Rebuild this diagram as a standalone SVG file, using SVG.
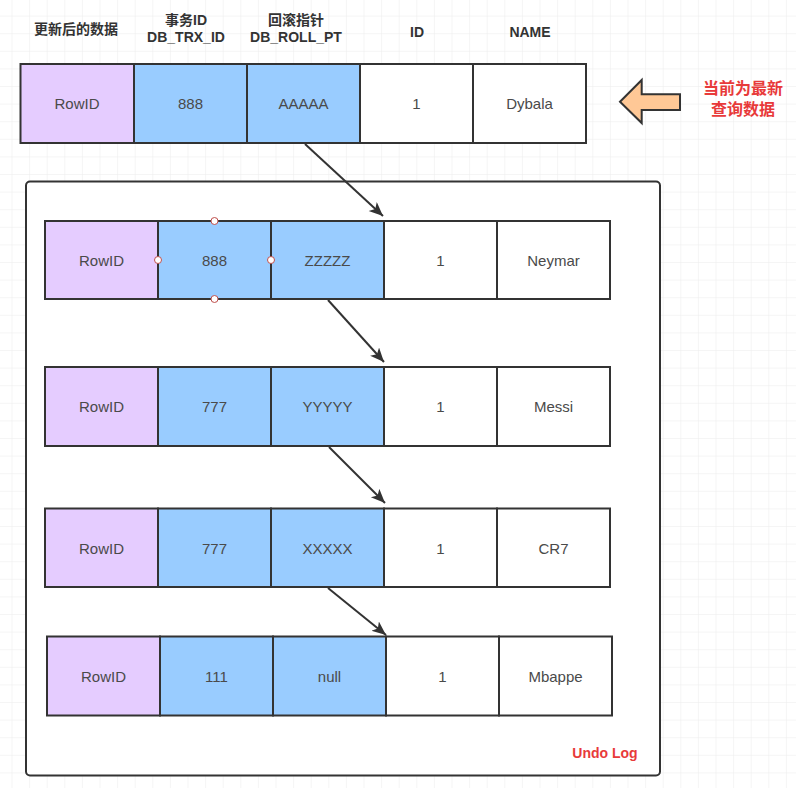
<svg xmlns="http://www.w3.org/2000/svg" width="796" height="788" viewBox="0 0 796 788">
<defs>
<pattern id="grid" x="11.5" y="15.6" width="17.6" height="17.6" patternUnits="userSpaceOnUse">
<path d="M0,0 H17.6 M0,0 V17.6" fill="none" stroke="#ececec" stroke-width="1"/>
</pattern>
<marker id="arr" markerUnits="userSpaceOnUse" markerWidth="16" markerHeight="14" refX="14" refY="6" orient="auto">
<path d="M0,0 L14,6 L0,12 L3.5,6 z" fill="#333"/>
</marker>
<style>
.c{stroke:#333;stroke-width:2}
.p{fill:#E5CCFF}
.b{fill:#99CCFF}
.w{fill:#FFFFFF}
.t{font-family:"Liberation Sans","Noto Sans CJK SC",sans-serif;font-size:15px;fill:#4a4a4a;text-anchor:middle;dominant-baseline:central}
.h{font-family:"Liberation Sans","Noto Sans CJK SC",sans-serif;font-size:14px;font-weight:bold;fill:#333;text-anchor:middle;dominant-baseline:central}
.r{font-family:"Liberation Sans","Noto Sans CJK SC",sans-serif;font-size:16px;font-weight:bold;fill:#E83A3A;text-anchor:middle;dominant-baseline:central}
.e{fill:none;stroke:#333;stroke-width:2;marker-end:url(#arr)}
.hd{fill:#fff;stroke:#c0504d;stroke-width:1}
</style>
</defs>
<rect width="796" height="788" fill="#fff"/>
<rect width="796" height="788" fill="url(#grid)"/>

<g id="headers">
<text class="h" x="76" y="29">更新后的数据</text>
<text class="h" x="186" y="20">事务ID</text>
<text class="h" x="186" y="37">DB_TRX_ID</text>
<text class="h" x="296" y="20">回滚指针</text>
<text class="h" x="296" y="37">DB_ROLL_PT</text>
<text class="h" x="417" y="32">ID</text>
<text class="h" x="530" y="32">NAME</text>
</g>

<g id="undolog">
<rect x="26" y="181.5" width="634" height="594" rx="4" fill="#fff" stroke="#333" stroke-width="2"/>
<text class="r" x="605" y="753" style="font-size:14px">Undo Log</text>
</g>

<g id="row0">
<rect class="c p" x="20.5" y="64" width="113.5" height="79"/>
<rect class="c b" x="134" y="64" width="113" height="79"/>
<rect class="c b" x="247" y="64" width="113" height="79"/>
<rect class="c w" x="360" y="64" width="113" height="79"/>
<rect class="c w" x="473" y="64" width="113" height="79"/>
<text class="t" x="77" y="103.5">RowID</text>
<text class="t" x="190.5" y="103.5">888</text>
<text class="t" x="303.5" y="103.5">AAAAA</text>
<text class="t" x="416.5" y="103.5">1</text>
<text class="t" x="529.5" y="103.5">Dybala</text>
</g>

<g id="row1">
<rect class="c p" x="45" y="221" width="113" height="78"/>
<rect class="c b" x="158" y="221" width="113" height="78"/>
<rect class="c b" x="271" y="221" width="113" height="78"/>
<rect class="c w" x="384" y="221" width="113" height="78"/>
<rect class="c w" x="497" y="221" width="113" height="78"/>
<text class="t" x="101.5" y="260">RowID</text>
<text class="t" x="214.5" y="260">888</text>
<text class="t" x="327.5" y="260">ZZZZZ</text>
<text class="t" x="440.5" y="260">1</text>
<text class="t" x="553.5" y="260">Neymar</text>
<circle class="hd" cx="214.5" cy="221" r="3.5"/>
<circle class="hd" cx="214.5" cy="299" r="3.5"/>
<circle class="hd" cx="158" cy="260" r="3.5"/>
<circle class="hd" cx="271" cy="260" r="3.5"/>
</g>

<g id="row2">
<rect class="c p" x="45" y="367" width="113" height="79"/>
<rect class="c b" x="158" y="367" width="113" height="79"/>
<rect class="c b" x="271" y="367" width="113" height="79"/>
<rect class="c w" x="384" y="367" width="113" height="79"/>
<rect class="c w" x="497" y="367" width="113" height="79"/>
<text class="t" x="101.5" y="406.5">RowID</text>
<text class="t" x="214.5" y="406.5">777</text>
<text class="t" x="327.5" y="406.5">YYYYY</text>
<text class="t" x="440.5" y="406.5">1</text>
<text class="t" x="553.5" y="406.5">Messi</text>
</g>

<g id="row3">
<rect class="c p" x="45" y="508.5" width="113" height="78.5"/>
<rect class="c b" x="158" y="508.5" width="113" height="78.5"/>
<rect class="c b" x="271" y="508.5" width="113" height="78.5"/>
<rect class="c w" x="384" y="508.5" width="113" height="78.5"/>
<rect class="c w" x="497" y="508.5" width="113" height="78.5"/>
<text class="t" x="101.5" y="548">RowID</text>
<text class="t" x="214.5" y="548">777</text>
<text class="t" x="327.5" y="548">XXXXX</text>
<text class="t" x="440.5" y="548">1</text>
<text class="t" x="553.5" y="548">CR7</text>
</g>

<g id="row4">
<rect class="c p" x="47" y="636.5" width="113" height="79"/>
<rect class="c b" x="160" y="636.5" width="113" height="79"/>
<rect class="c b" x="273" y="636.5" width="113" height="79"/>
<rect class="c w" x="386" y="636.5" width="113" height="79"/>
<rect class="c w" x="499" y="636.5" width="113" height="79"/>
<text class="t" x="103.5" y="676">RowID</text>
<text class="t" x="216.5" y="676">111</text>
<text class="t" x="329.5" y="676">null</text>
<text class="t" x="442.5" y="676">1</text>
<text class="t" x="555.5" y="676">Mbappe</text>
</g>

<g id="pointer">
<path d="M620,101.7 L641.7,80 L641.7,94.3 L680,94.3 L680,110 L641.7,110 L641.7,123 Z" fill="#FFC896" stroke="#333" stroke-width="2" stroke-linejoin="miter"/>
<text class="r" x="743" y="88">当前为最新</text>
<text class="r" x="743" y="109">查询数据</text>
</g>

<g id="connectors">
<line class="e" x1="305" y1="144" x2="383" y2="216"/>
<line class="e" x1="328" y1="300" x2="384" y2="362"/>
<line class="e" x1="329" y1="447" x2="385" y2="503"/>
<line class="e" x1="328" y1="588" x2="386" y2="635"/>
</g>
</svg>
